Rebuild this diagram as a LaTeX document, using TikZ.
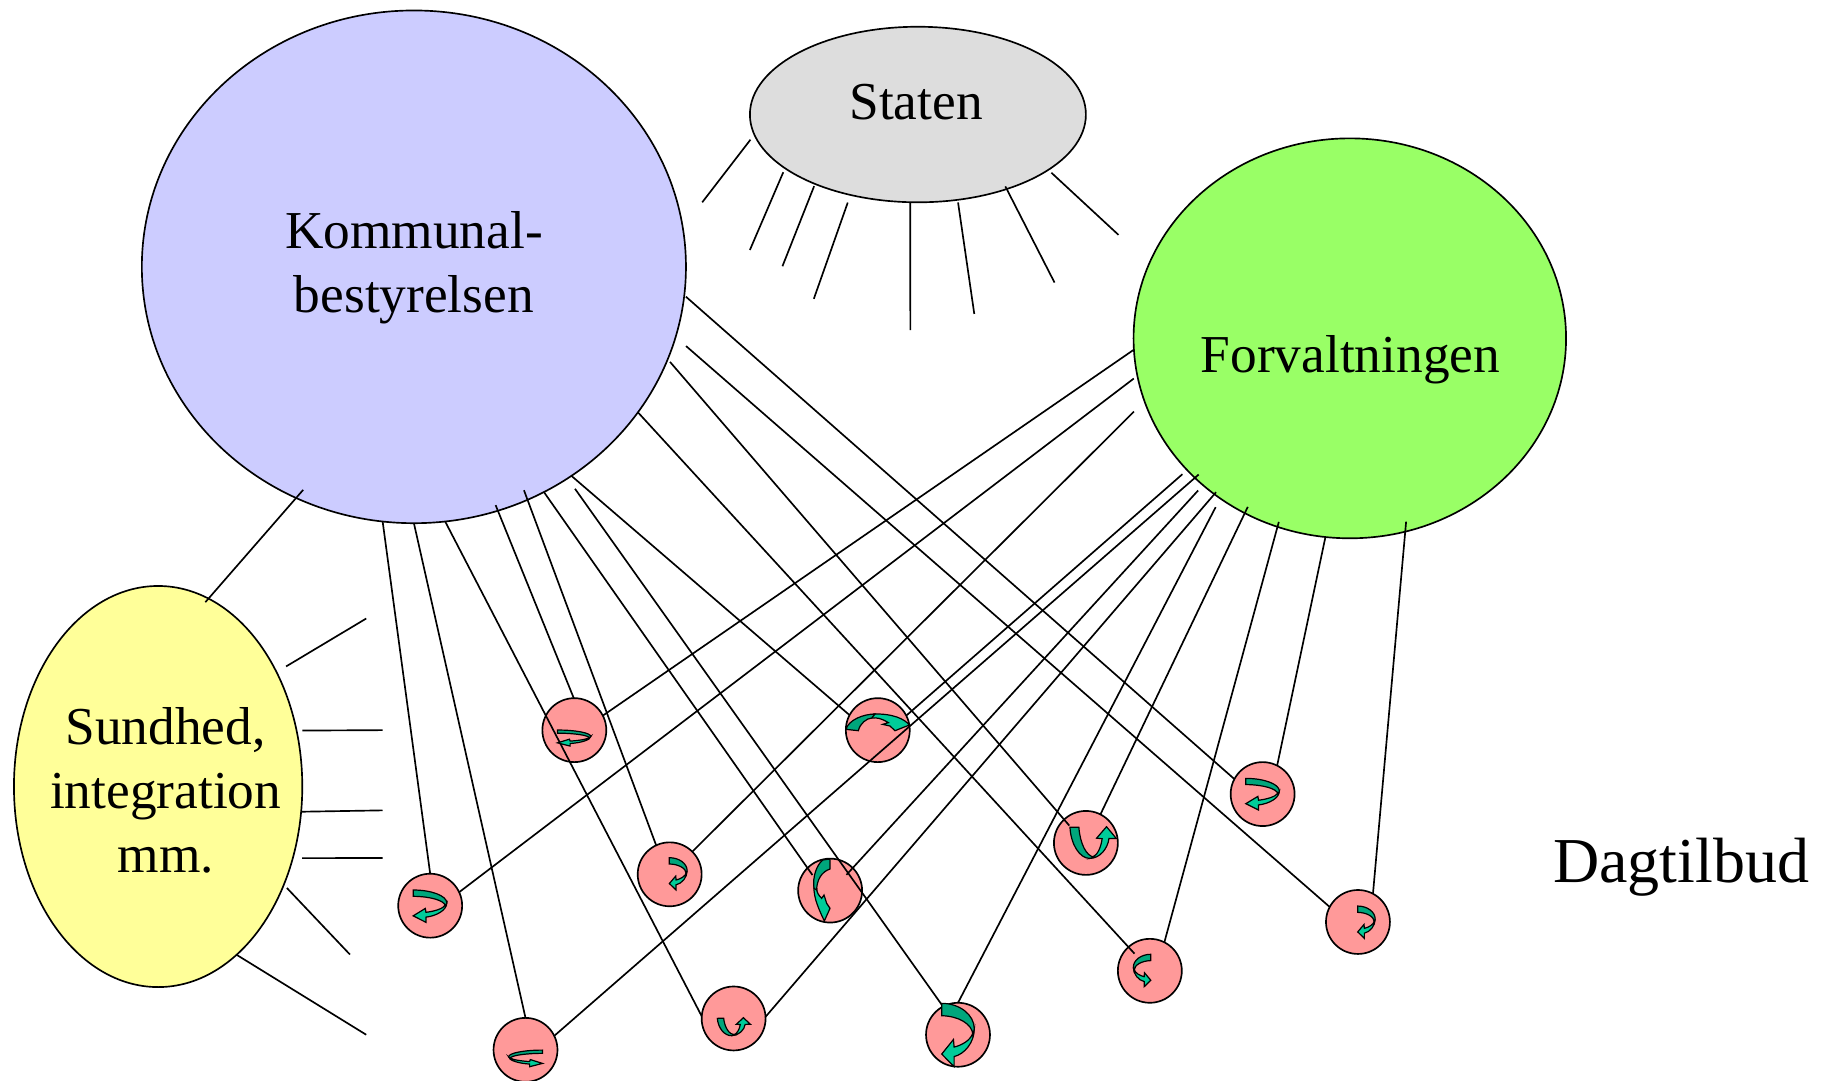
\documentclass[tikz,border=0pt]{standalone}
\usepackage{fontspec}
\setmainfont{Liberation Serif}
\usetikzlibrary{shapes.geometric}
\def\uu{0.87196pt}
\tikzset{
  link/.style={draw=black,line width=1.25pt},
  bigshape/.style={ellipse,draw=black,line width=1.25pt,inner sep=0pt,outer sep=0pt},
  spot/.style={circle,draw=black,line width=1.25pt,fill=spotred,inner sep=0pt,outer sep=0pt,minimum size=55*\uu},
  lab/.style={font=\fontsize{40}{48}\selectfont,align=center,inner sep=0pt},
  darkband/.style={draw=black,line width=0.9pt,line join=miter,fill=banddark},
  lightband/.style={draw=black,line width=0.9pt,line join=miter,fill=bandlight}
}
\definecolor{spotred}{HTML}{FF9999}
\definecolor{banddark}{HTML}{00A67C}
\definecolor{bandlight}{HTML}{00CC99}
\definecolor{kblue}{HTML}{CCCCFF}
\definecolor{sgrey}{HTML}{DDDDDD}
\definecolor{fgreen}{HTML}{99FF66}
\definecolor{hyellow}{HTML}{FFFF99}
\newcommand\bentarrow[6]{%
  \begin{scope}[cm={(#3)*0.87196,-(#4)*0.87196,(#5)*0.87196,-(#6)*0.87196,(#1,#2)},x=1pt,y=1pt]
    \path[lightband] (1,.4) .. controls (1,.62) and (.7,.8) .. (.38,.84) -- (.38,1) -- (0,.8) -- (.36,.57) -- (.38,.69) .. controls (.62,.66) and (.9,.58) .. (.96,.46) -- cycle;
    \path[darkband] (0,0) .. controls (.55,0) and (1,.18) .. (1,.4) -- (.96,.5) .. controls (.94,.32) and (.5,.2) .. (0,.195) -- cycle;
  \end{scope}}
\begin{document}
\begin{tikzpicture}[x=0.87196pt,y=-0.87196pt]
\useasboundingbox (0,0) rectangle (1568,929);
% large shapes
\node[bigshape,fill=kblue,minimum width=468*\uu,minimum height=441*\uu] (K) at (356,229.5) {};
\node[bigshape,fill=sgrey,minimum width=289*\uu,minimum height=151*\uu] (S) at (789.5,98.5) {};
\node[bigshape,fill=fgreen,minimum width=372*\uu,minimum height=344*\uu] (F) at (1161,291) {};
\node[bigshape,fill=hyellow,minimum width=248*\uu,minimum height=345*\uu] (H) at (136,676.5) {};
% small circles
\node[spot] (c1) at (494,628) {};
\node[spot] (c2) at (755,628) {};
\node[spot] (c3) at (1086,683) {};
\node[spot] (c4) at (934,725) {};
\node[spot] (c5) at (576,752) {};
\node[spot] (c6) at (714,766) {};
\node[spot] (c7) at (370,779) {};
\node[spot] (c8) at (1168,793) {};
\node[spot] (c9) at (989,835) {};
\node[spot] (c10) at (631,876) {};
\node[spot] (c11) at (824,890) {};
\node[spot] (c12) at (452,903) {};
% free ends
\coordinate (se1) at (604,174);
\coordinate (se2) at (645,215);
\coordinate (se3) at (673,229);
\coordinate (se4) at (700,257);
\coordinate (se5) at (783,284);
\coordinate (se6) at (838,270);
\coordinate (se7) at (907,243);
\coordinate (se8) at (962,202);
\coordinate (he1) at (315,532);
\coordinate (he2) at (329,628);
\coordinate (he3) at (329,697);
\coordinate (he4) at (329,738);
\coordinate (he5) at (301,821);
\coordinate (he6) at (315,890);
% Staten spokes
\draw[link,shorten <=4.8pt] (S.-173.5) -- (se1);
\draw[link,shorten <=3.3pt] (S.-158.82) -- (se2);
\draw[link,shorten <=1.8pt] (S.-146.13) -- (se3);
\draw[link,shorten <=6.1pt] (S.-130.7) -- (se4);
\draw[link] (S.-95.6) -- (se5);
\draw[link,shorten <=2pt] (S.-65.44) -- (se6);
\draw[link,shorten <=-2.2pt] (S.-40.4) -- (se7);
\draw[link,shorten <=3.2pt] (S.-23) -- (se8);
% Sundhed spokes
\draw[link,shorten <=8.35pt] (H.44.08) -- (he1);
\draw[link,shorten <=4.4pt] (H.22.6) -- (he2);
\draw[link,shorten <=0.8pt] (H.-10.2) -- (he3);
\draw[link,shorten <=7pt] (H.-28.8) -- (he4);
\draw[link,shorten <=3.4pt] (H.-38.6) -- (he5);
\draw[link] (H.-65.1) -- (he6);
% Kommunalbestyrelsen links
\draw[link,shorten <=-8pt,shorten >=-3.55pt] (K.-117.2) -- (H.75.7);
\draw[link,shorten <=1.6pt] (K.-6.7) -- (c3.152.6);
\draw[link,shorten <=10.4pt] (K.-15.07) -- (c8.152.6);
\draw[link,shorten <=2.7pt,shorten >=-6pt] (K.-20.2) -- (c4.133);
\draw[link,shorten >=-6.7pt] (K.-33.2) -- (c9.132.9);
\draw[link] (K.-53) -- (c2.152.6);
\draw[link,shorten <=9.6pt] (K.-54.5) -- (c11.118.3);
\draw[link,shorten >=-6.5pt] (K.-60.08) -- (c6.135);
\draw[link,shorten <=-7.6pt] (K.-64.3) -- (c5.115.6);
\draw[link,shorten <=-4.5pt] (K.-71.44) -- (c1.91);
\draw[link] (K.-83) -- (c10.176.7);
\draw[link] (K.-90) -- (c12.90);
\draw[link] (K.-97) -- (c7.90);
% Forvaltningen links
\draw[link] (F.-177.2) -- (c1.27.4);
\draw[link,shorten <=3.4pt] (F.-170.2) -- (c7.25.7);
\draw[link,shorten <=11.1pt] (F.-163.33) -- (c5.45);
\draw[link,shorten <=4.7pt] (F.-141.1) -- (c2.27.4);
\draw[link,shorten <=-3.8pt] (F.-138.2) -- (c12.26.6);
\draw[link,shorten <=5.4pt,shorten >=-7pt] (F.-135) -- (c6.45);
\draw[link,shorten <=-2pt] (F.-131.7) -- (c10.3);
\draw[link,shorten <=7.4pt] (F.-129.55) -- (c11.90);
\draw[link,shorten <=-5.2pt] (F.-121.5) -- (c4.63);
\draw[link,shorten <=-3.8pt] (F.-111.2) -- (c9.63.4);
\draw[link] (F.-97.7) -- (c3.63.4);
\draw[link,shorten <=-7.5pt] (F.-74.8) -- (c8.62.6);
% curved arrows in the circles
\bentarrow{479.5}{627.9}{28.6}{0}{0}{13.8}
\bentarrow{1071.5}{669.5}{28.9}{0}{0}{27.2}
\bentarrow{575.7}{737.7}{15.3}{0}{0}{27.8}
\bentarrow{355.4}{765.5}{28.9}{0}{0}{27.8}
\bentarrow{1167.8}{779.3}{15}{0}{0}{27.8}
\bentarrow{810}{863}{28}{0}{0}{54.5}
\bentarrow{466.6}{903.2}{-29.1}{0}{0}{14.3}
\bentarrow{989.8}{820.8}{-15}{0}{0}{27.9}
\bentarrow{920.3}{711.6}{1.4}{27}{39.3}{-.7}
\bentarrow{617}{875.9}{1.1}{15.2}{28}{-.7}
\begin{scope}[shift={(722.5,593.5)},x=0.25pt,y=-0.25pt]
  \path[lightband] (100,72) .. controls (160,70) and (195,88) .. (208,105) -- (165,122) -- (150,108) -- (128,103) -- (145,98) .. controls (125,85) and (110,82) .. (95,84) -- cycle;
  \path[darkband] (18,118) .. controls (25,90) and (70,72) .. (105,72) -- (95,84) .. controls (80,85) and (60,100) .. (55,122) -- cycle;
\end{scope}
\begin{scope}[shift={(683.8,735.4)},x=0.25pt,y=-0.25pt]
  \path[lightband] (57,95) .. controls (55,130) and (75,170) .. (88,198) -- (105,160) -- (95,145) -- (87,120) -- (80,130) .. controls (70,120) and (65,112) .. (65,100) -- cycle;
  \path[darkband] (83,15) -- (105,12) -- (105,42) .. controls (80,50) and (65,75) .. (65,105) -- (57,100) .. controls (52,65) and (65,30) .. (83,15) -- cycle;
\end{scope}
% texts
\node[lab] (tK) at (356,230) {Kommunal-\\bestyrelsen};
\node[lab] (tS) at (788,88) {Staten};
\node[lab] (tF) at (1161.5,309) {Forvaltningen};
\node[lab] (tH) at (142.5,679.5) {Sundhed,\\integration\\mm.};
\node[lab,font=\fontsize{48}{56}\selectfont] (tD) at (1446,746) {Dagtilbud};
\end{tikzpicture}
\end{document}
